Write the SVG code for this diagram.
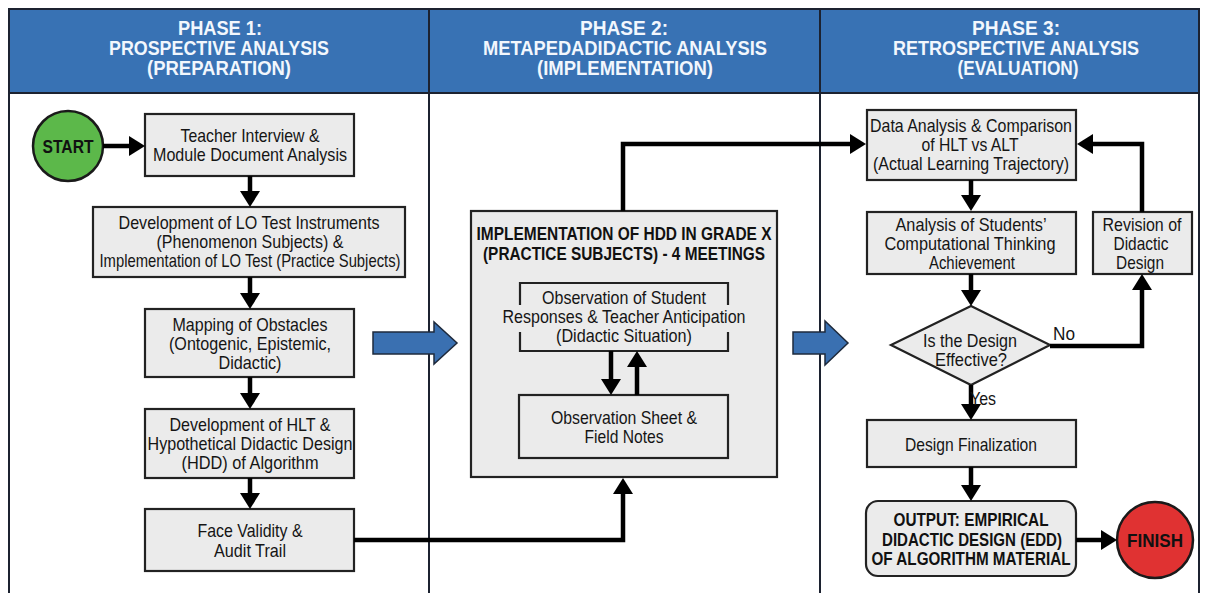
<svg xmlns="http://www.w3.org/2000/svg" width="1205" height="593" viewBox="0 0 1205 593">
  <defs>
    <style>
      .frame { fill: none; stroke: #1c2230; stroke-width: 2; }
      .hdr { fill: #3872b4; stroke: #1c2230; stroke-width: 2; }
      .htxt { font-family: "Liberation Sans", Arial, sans-serif; font-weight: bold; font-size: 20px; fill: #f2f7fd; text-anchor: middle; }
      .box { fill: #ebebeb; stroke: #222; stroke-width: 2.2; }
      .txt { font-family: "Liberation Sans", Arial, sans-serif; font-size: 18.5px; fill: #151515; text-anchor: middle; }
      .btxt { font-family: "Liberation Sans", Arial, sans-serif; font-weight: bold; font-size: 18.5px; fill: #111; text-anchor: middle; }
      .conn { fill: none; stroke: #000; stroke-width: 4.5; marker-end: url(#ah); }
      .block { fill: #3a70b1; stroke: #1e2a3c; stroke-width: 1.5; stroke-linejoin: miter; }
    </style>
    <marker id="ah" markerUnits="userSpaceOnUse" markerWidth="17" markerHeight="21" refX="8" refY="10" orient="auto">
      <path d="M0,0 L16,10 L0,20 z" fill="#000"/>
    </marker>
  </defs>

  <rect width="1205" height="593" fill="#ffffff"/>

  <!-- phase columns and headers -->
  <g id="columns">
    <rect class="hdr" x="9" y="9" width="1190" height="84"/>
    <path class="frame" d="M9,9 V593 M429,9 V593 M820,9 V593 M1199,9 V593"/>
    <text class="htxt" x="220" y="35" textLength="84" lengthAdjust="spacingAndGlyphs">PHASE 1:</text>
    <text class="htxt" x="219" y="55" textLength="220" lengthAdjust="spacingAndGlyphs">PROSPECTIVE ANALYSIS</text>
    <text class="htxt" x="219" y="75" textLength="144" lengthAdjust="spacingAndGlyphs">(PREPARATION)</text>
    <text class="htxt" x="624" y="35" textLength="88" lengthAdjust="spacingAndGlyphs">PHASE 2:</text>
    <text class="htxt" x="625" y="55" textLength="284" lengthAdjust="spacingAndGlyphs">METAPEDADIDACTIC ANALYSIS</text>
    <text class="htxt" x="625" y="75" textLength="176" lengthAdjust="spacingAndGlyphs">(IMPLEMENTATION)</text>
    <text class="htxt" x="1016" y="35" textLength="88" lengthAdjust="spacingAndGlyphs">PHASE 3:</text>
    <text class="htxt" x="1016" y="55" textLength="246" lengthAdjust="spacingAndGlyphs">RETROSPECTIVE ANALYSIS</text>
    <text class="htxt" x="1018" y="75" textLength="121" lengthAdjust="spacingAndGlyphs">(EVALUATION)</text>
  </g>

  <!-- phase transition block arrows -->
  <g id="phase-arrows">
    <polygon class="block" points="373,332 434,332 434,322 457,343 434,364 434,354 373,354"/>
    <polygon class="block" points="793,332 825,332 825,321 848,343 825,365 825,354 793,354"/>
  </g>

  <!-- phase 1 -->
  <g id="start">
    <circle cx="68" cy="146" r="35" fill="#5cb84a" stroke="#1a1a1a" stroke-width="2.5"/>
    <text class="btxt" x="68" y="153" font-size="20" textLength="51" lengthAdjust="spacingAndGlyphs">START</text>
  </g>
  <g id="interview">
    <rect class="box" x="145" y="114" width="209" height="62"/>
    <text class="txt" x="250" y="142" textLength="139" lengthAdjust="spacingAndGlyphs">Teacher Interview &amp;</text>
    <text class="txt" x="250" y="161" textLength="194" lengthAdjust="spacingAndGlyphs">Module Document Analysis</text>
  </g>
  <g id="lo-test">
    <rect class="box" x="93" y="207" width="312" height="70"/>
    <text class="txt" x="249" y="229" textLength="261" lengthAdjust="spacingAndGlyphs">Development of LO Test Instruments</text>
    <text class="txt" x="250" y="248" textLength="187" lengthAdjust="spacingAndGlyphs">(Phenomenon Subjects) &amp;</text>
    <text class="txt" x="250" y="267" textLength="301" lengthAdjust="spacingAndGlyphs">Implementation of LO Test (Practice Subjects)</text>
  </g>
  <g id="obstacles">
    <rect class="box" x="145" y="309" width="209" height="68"/>
    <text class="txt" x="250" y="331" textLength="155" lengthAdjust="spacingAndGlyphs">Mapping of Obstacles</text>
    <text class="txt" x="250" y="350" textLength="162" lengthAdjust="spacingAndGlyphs">(Ontogenic, Epistemic,</text>
    <text class="txt" x="250" y="369" textLength="63" lengthAdjust="spacingAndGlyphs">Didactic)</text>
  </g>
  <g id="hlt-hdd">
    <rect class="box" x="145" y="409" width="209" height="69"/>
    <text class="txt" x="250" y="431" textLength="161" lengthAdjust="spacingAndGlyphs">Development of HLT &amp;</text>
    <text class="txt" x="250" y="450" textLength="205" lengthAdjust="spacingAndGlyphs">Hypothetical Didactic Design</text>
    <text class="txt" x="250" y="469" textLength="137" lengthAdjust="spacingAndGlyphs">(HDD) of Algorithm</text>
  </g>
  <g id="validity">
    <rect class="box" x="145" y="509" width="209" height="62"/>
    <text class="txt" x="250" y="537" textLength="105" lengthAdjust="spacingAndGlyphs">Face Validity &amp;</text>
    <text class="txt" x="250" y="557" textLength="72" lengthAdjust="spacingAndGlyphs">Audit Trail</text>
  </g>

  <!-- phase 2 -->
  <g id="implementation">
    <rect class="box" x="471" y="211" width="306" height="266" stroke-width="2.5"/>
    <text class="btxt" x="624" y="240" textLength="295" lengthAdjust="spacingAndGlyphs">IMPLEMENTATION OF HDD IN GRADE X</text>
    <text class="btxt" x="624" y="260" textLength="282" lengthAdjust="spacingAndGlyphs">(PRACTICE SUBJECTS) - 4 MEETINGS</text>
  </g>
  <g id="observation">
    <path d="M520,305 V283 H728 V305 M520,332 V351 H728 V332" fill="none" stroke="#222" stroke-width="2.2"/>
    <text class="txt" x="624" y="304" textLength="164" lengthAdjust="spacingAndGlyphs">Observation of Student</text>
    <text class="txt" x="624" y="323" textLength="243" lengthAdjust="spacingAndGlyphs">Responses &amp; Teacher Anticipation</text>
    <text class="txt" x="624" y="342" textLength="136" lengthAdjust="spacingAndGlyphs">(Didactic Situation)</text>
  </g>
  <g id="field-notes">
    <rect class="box" x="519" y="395" width="209" height="63"/>
    <text class="txt" x="624" y="424" textLength="146" lengthAdjust="spacingAndGlyphs">Observation Sheet &amp;</text>
    <text class="txt" x="624" y="443" textLength="79" lengthAdjust="spacingAndGlyphs">Field Notes</text>
  </g>

  <!-- phase 3 -->
  <g id="comparison">
    <rect class="box" x="867" y="110" width="209" height="70"/>
    <text class="txt" x="971" y="132" textLength="202" lengthAdjust="spacingAndGlyphs">Data Analysis &amp; Comparison</text>
    <text class="txt" x="970" y="151" textLength="97" lengthAdjust="spacingAndGlyphs">of HLT vs ALT</text>
    <text class="txt" x="971" y="170" textLength="196" lengthAdjust="spacingAndGlyphs">(Actual Learning Trajectory)</text>
  </g>
  <g id="ct-analysis">
    <rect class="box" x="867" y="212" width="209" height="62"/>
    <text class="txt" x="971" y="231" textLength="151" lengthAdjust="spacingAndGlyphs">Analysis of Students’</text>
    <text class="txt" x="970" y="250" textLength="171" lengthAdjust="spacingAndGlyphs">Computational Thinking</text>
    <text class="txt" x="972" y="269" textLength="86" lengthAdjust="spacingAndGlyphs">Achievement</text>
  </g>
  <g id="revision">
    <rect class="box" x="1093" y="212" width="99" height="62"/>
    <text class="txt" x="1142" y="231" textLength="79" lengthAdjust="spacingAndGlyphs">Revision of</text>
    <text class="txt" x="1141" y="250" textLength="55" lengthAdjust="spacingAndGlyphs">Didactic</text>
    <text class="txt" x="1140" y="269" textLength="48" lengthAdjust="spacingAndGlyphs">Design</text>
  </g>
  <g id="decision">
    <polygon class="box" points="971,306 1050,345 971,385 891,345" stroke-width="2.5"/>
    <text class="txt" x="970" y="347" textLength="94" lengthAdjust="spacingAndGlyphs">Is the Design</text>
    <text class="txt" x="971" y="366" textLength="72" lengthAdjust="spacingAndGlyphs">Effective?</text>
  </g>
  <g id="finalization">
    <rect class="box" x="867" y="420" width="209" height="47"/>
    <text class="txt" x="971" y="451" textLength="132" lengthAdjust="spacingAndGlyphs">Design Finalization</text>
  </g>
  <g id="output">
    <rect class="box" x="866" y="501" width="210" height="75" rx="12" stroke-width="2.5"/>
    <text class="btxt" x="971" y="526" textLength="155" lengthAdjust="spacingAndGlyphs">OUTPUT: EMPIRICAL</text>
    <text class="btxt" x="972" y="546" textLength="180" lengthAdjust="spacingAndGlyphs">DIDACTIC DESIGN (EDD)</text>
    <text class="btxt" x="971" y="565" textLength="199" lengthAdjust="spacingAndGlyphs">OF ALGORITHM MATERIAL</text>
  </g>
  <g id="finish">
    <circle cx="1155" cy="540" r="38" fill="#e03232" stroke="#1a1a1a" stroke-width="2.5"/>
    <text class="btxt" x="1155" y="547" font-size="20" textLength="56" lengthAdjust="spacingAndGlyphs">FINISH</text>
  </g>

  <!-- connectors -->
  <g id="connectors">
    <path class="conn" d="M103,146 H137"/>
    <path class="conn" d="M250,176 V199"/>
    <path class="conn" d="M250,277 V301"/>
    <path class="conn" d="M250,377 V401"/>
    <path class="conn" d="M250,478 V501"/>
    <path class="conn" d="M354,540 H623 V486"/>
    <path class="conn" d="M623,211 V144 H858"/>
    <path class="conn" d="M611,351 V387" stroke-width="4"/>
    <path class="conn" d="M637,395 V359" stroke-width="4"/>
    <path class="conn" d="M971,180 V203"/>
    <path class="conn" d="M971,274 V298"/>
    <path class="conn" d="M971,385 V412"/>
    <path class="conn" d="M971,467 V493"/>
    <path class="conn" d="M1076,540 H1109"/>
    <path class="conn" d="M1050,346 H1142 V282"/>
    <path class="conn" d="M1142,212 V144 H1085"/>
    <text class="txt" x="1064" y="340" font-size="18" textLength="22" lengthAdjust="spacingAndGlyphs">No</text>
    <text class="txt" x="983" y="405" font-size="18" text-anchor="start" textLength="26" lengthAdjust="spacingAndGlyphs">Yes</text>
  </g>
</svg>
